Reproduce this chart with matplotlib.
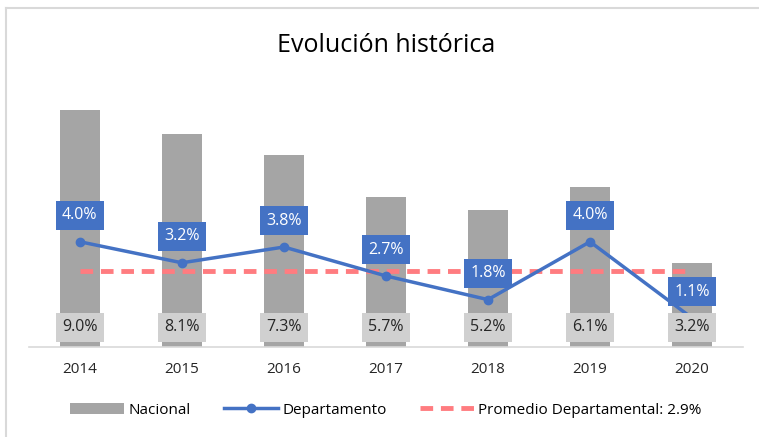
import matplotlib
matplotlib.use('Agg')
import matplotlib.pyplot as plt
from matplotlib.lines import Line2D
import numpy as np

years = ["2014", "2015", "2016", "2017", "2018", "2019", "2020"]
nacional = [9.0, 8.1, 7.3, 5.7, 5.2, 6.1, 3.2]
departamento = [4.0, 3.2, 3.8, 2.7, 1.8, 4.0, 1.1]
promedio = 2.9

plt.rcParams['font.family'] = ['Open Sans', 'DejaVu Sans']

fig = plt.figure(figsize=(7.59, 4.37), dpi=100)
ax = fig.add_axes([0.038, 0.206, 0.941, 0.602])

x = np.arange(len(years))
bar_color = "#A5A5A5"
blue = "#4472C4"

bars = ax.bar(x, nacional, width=0.39, color=bar_color, zorder=1, label="Nacional")
linea, = ax.plot(x, departamento, color=blue, linewidth=2.5, marker="o", markersize=6,
                 zorder=3, label="Departamento")
prom, = ax.plot(x, [promedio] * len(x), color="#FF7C80", linewidth=3.5,
                linestyle=(0, (2.6, 1.6)), zorder=2,
                label=f"Promedio Departamental: {promedio}%")

# etiquetas de los valores
for xi, v in zip(x, nacional):
    ax.text(xi, 0.75, f"{v:.1f}%", ha="center", va="center", fontsize=11.5, color="#262626",
            zorder=5, bbox=dict(boxstyle="square,pad=0.4", fc="#D0D0D0", ec="none"))
for xi, v in zip(x, departamento):
    ax.text(xi, v + 1.0, f"{v:.1f}%", ha="center", va="center", fontsize=11.5, color="white",
            zorder=6, bbox=dict(boxstyle="square,pad=0.4", fc=blue, ec="none"))

ax.set_xlim(-0.5, len(x) - 0.5)
ax.set_ylim(0, 10)
ax.set_xticks(x)
ax.set_xticklabels(years, fontsize=11, color="#262626")
ax.tick_params(axis="x", length=0, pad=11)
ax.set_yticks([])
for s in ["top", "right", "left"]:
    ax.spines[s].set_visible(False)
ax.spines["bottom"].set_color("#D9D9D9")
ax.spines["bottom"].set_linewidth(1.2)

fig.text(386 / 759, 1 - 45 / 437, "Evolución histórica", ha="center", va="center",
         fontsize=18, color="#000000")

ax.legend(handles=[bars, linea, prom], loc="center",
          bbox_to_anchor=(386 / 759, 1 - 410 / 437), bbox_transform=fig.transFigure,
          ncol=3, frameon=False, fontsize=11, handlelength=3.5, columnspacing=2.2,
          handletextpad=0.3)

# borde del gráfico
fig.add_artist(Line2D([6 / 759, 1], [1 - 8 / 437, 1 - 8 / 437], color="#D9D9D9", lw=1.5))
fig.add_artist(Line2D([6 / 759, 6 / 759], [0, 1 - 8 / 437], color="#D9D9D9", lw=1.5))

fig.savefig("out.png", dpi=100)
